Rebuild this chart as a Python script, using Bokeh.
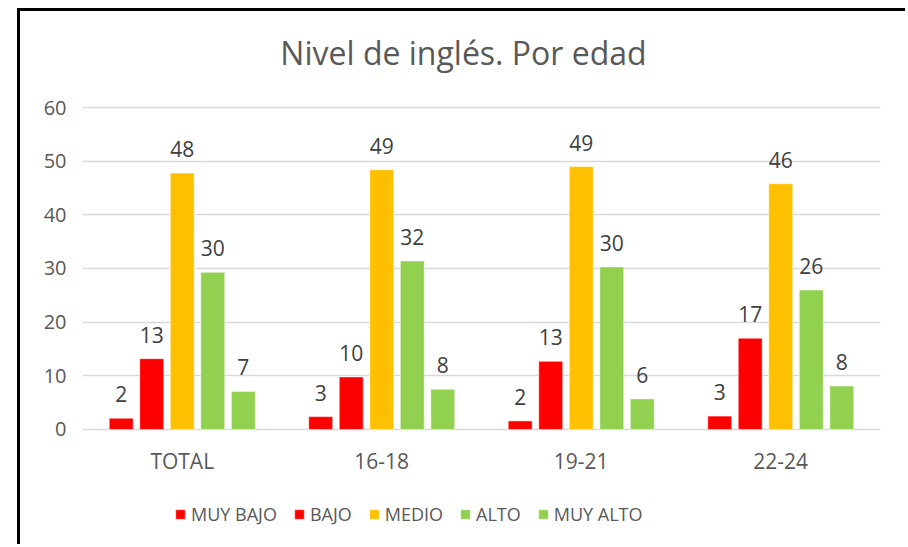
from bokeh.plotting import figure
from bokeh.models import ColumnDataSource, LabelSet, Legend, LegendItem, FactorRange, Label, Range1d
from bokeh.transform import dodge
from bokeh.core.properties import value
from bokeh.embed import file_html
from bokeh.resources import INLINE

categories = ["TOTAL", "16-18", "19-21", "22-24"]
series = ["MUY BAJO", "BAJO", "MEDIO", "ALTO", "MUY ALTO"]
muy_bajo = [2.1, 2.4, 1.6, 2.5]
bajo = [13.2, 9.8, 12.7, 17.0]
medio = [47.8, 48.4, 49.0, 45.8]
alto = [29.3, 31.4, 30.3, 26.0]
muy_alto = [7.1, 7.5, 5.7, 8.1]
labels_muy_bajo = ["2", "3", "2", "3"]
labels_bajo = ["13", "10", "13", "17"]
labels_medio = ["48", "49", "49", "46"]
labels_alto = ["30", "32", "30", "26"]
labels_muy_alto = ["7", "8", "6", "8"]
y_ticks = [0, 10, 20, 30, 40, 50, 60]
colors = ["#FF0000", "#FF0000", "#FFC000", "#92D050", "#92D050"]
title_text = "Nivel de inglés. Por edad"

values = [muy_bajo, bajo, medio, alto, muy_alto]
labels = [labels_muy_bajo, labels_bajo, labels_medio, labels_alto, labels_muy_alto]

FONT = "Open Sans"
TXT = "#595959"

# frame spans the whole canvas height; 0..60 occupies the same pixels as the reference
p = figure(x_range=FactorRange(*categories, range_padding=0),
           y_range=Range1d(-21.99, 77.89),
           width=888, height=536, output_backend="svg", toolbar_location=None,
           min_border_left=62, min_border_right=28, min_border_top=0, min_border_bottom=0,
           styles={"margin-left": "17px", "margin-top": "8px",
                   "border-left": "3px solid #000000", "border-top": "3px solid #000000"})

source_data = {"cat": categories}
for i in range(5):
    source_data[f"v{i}"] = values[i]
    source_data[f"l{i}"] = labels[i]
src = ColumnDataSource(source_data)

pitch = 0.153
width = 0.12
items = []
for i in range(5):
    off = (i - 2) * pitch
    r = p.vbar(x=dodge("cat", off, range=p.x_range), top=f"v{i}", width=width, source=src,
               fill_color=colors[i], line_color="white", line_width=0.5)
    items.append(LegendItem(label=series[i], renderers=[r]))
    ls = LabelSet(x=dodge("cat", off, range=p.x_range), y=f"v{i}", text=f"l{i}", source=src,
                  text_align="center", text_baseline="middle", y_offset=24,
                  text_font=value(FONT), text_font_size="21px", text_color="#404040")
    p.add_layout(ls)

# category labels under the baseline
cat_src = ColumnDataSource({"cat": categories, "zero": [0] * len(categories)})
cat_labels = LabelSet(x="cat", y="zero", text="cat", source=cat_src,
                      text_align="center", text_baseline="middle", y_offset=-32,
                      text_font=value(FONT), text_font_size="21px", text_color=TXT)
p.add_layout(cat_labels)

legend = Legend(items=items, orientation="horizontal", location=(92, 21),
                glyph_width=12, glyph_height=12, label_standoff=5, spacing=16,
                label_text_font=FONT, label_text_font_size="18px", label_text_color=TXT,
                border_line_color=None, background_fill_alpha=0, margin=0, padding=0)
p.add_layout(legend, "center")

title = Label(x=381, y=495, x_units="screen", y_units="screen", text=title_text,
              text_align="center", text_baseline="middle",
              text_font=FONT, text_font_size="32px", text_color=TXT)
p.add_layout(title)

p.xaxis.visible = False
p.yaxis.ticker = y_ticks
p.yaxis.axis_line_color = None
p.yaxis.major_tick_line_color = None
p.yaxis.minor_tick_line_color = None
p.yaxis.major_tick_out = 0
p.yaxis.major_tick_in = 0
p.yaxis.major_label_text_font = FONT
p.yaxis.major_label_text_color = TXT
p.yaxis.major_label_text_font_size = "20px"
p.yaxis.major_label_standoff = 16
p.xgrid.grid_line_color = None
p.ygrid.grid_line_color = "#D9D9D9"
p.ygrid.grid_line_width = 1.5
p.outline_line_color = None

open("out.html", "w").write(file_html(p, INLINE))
